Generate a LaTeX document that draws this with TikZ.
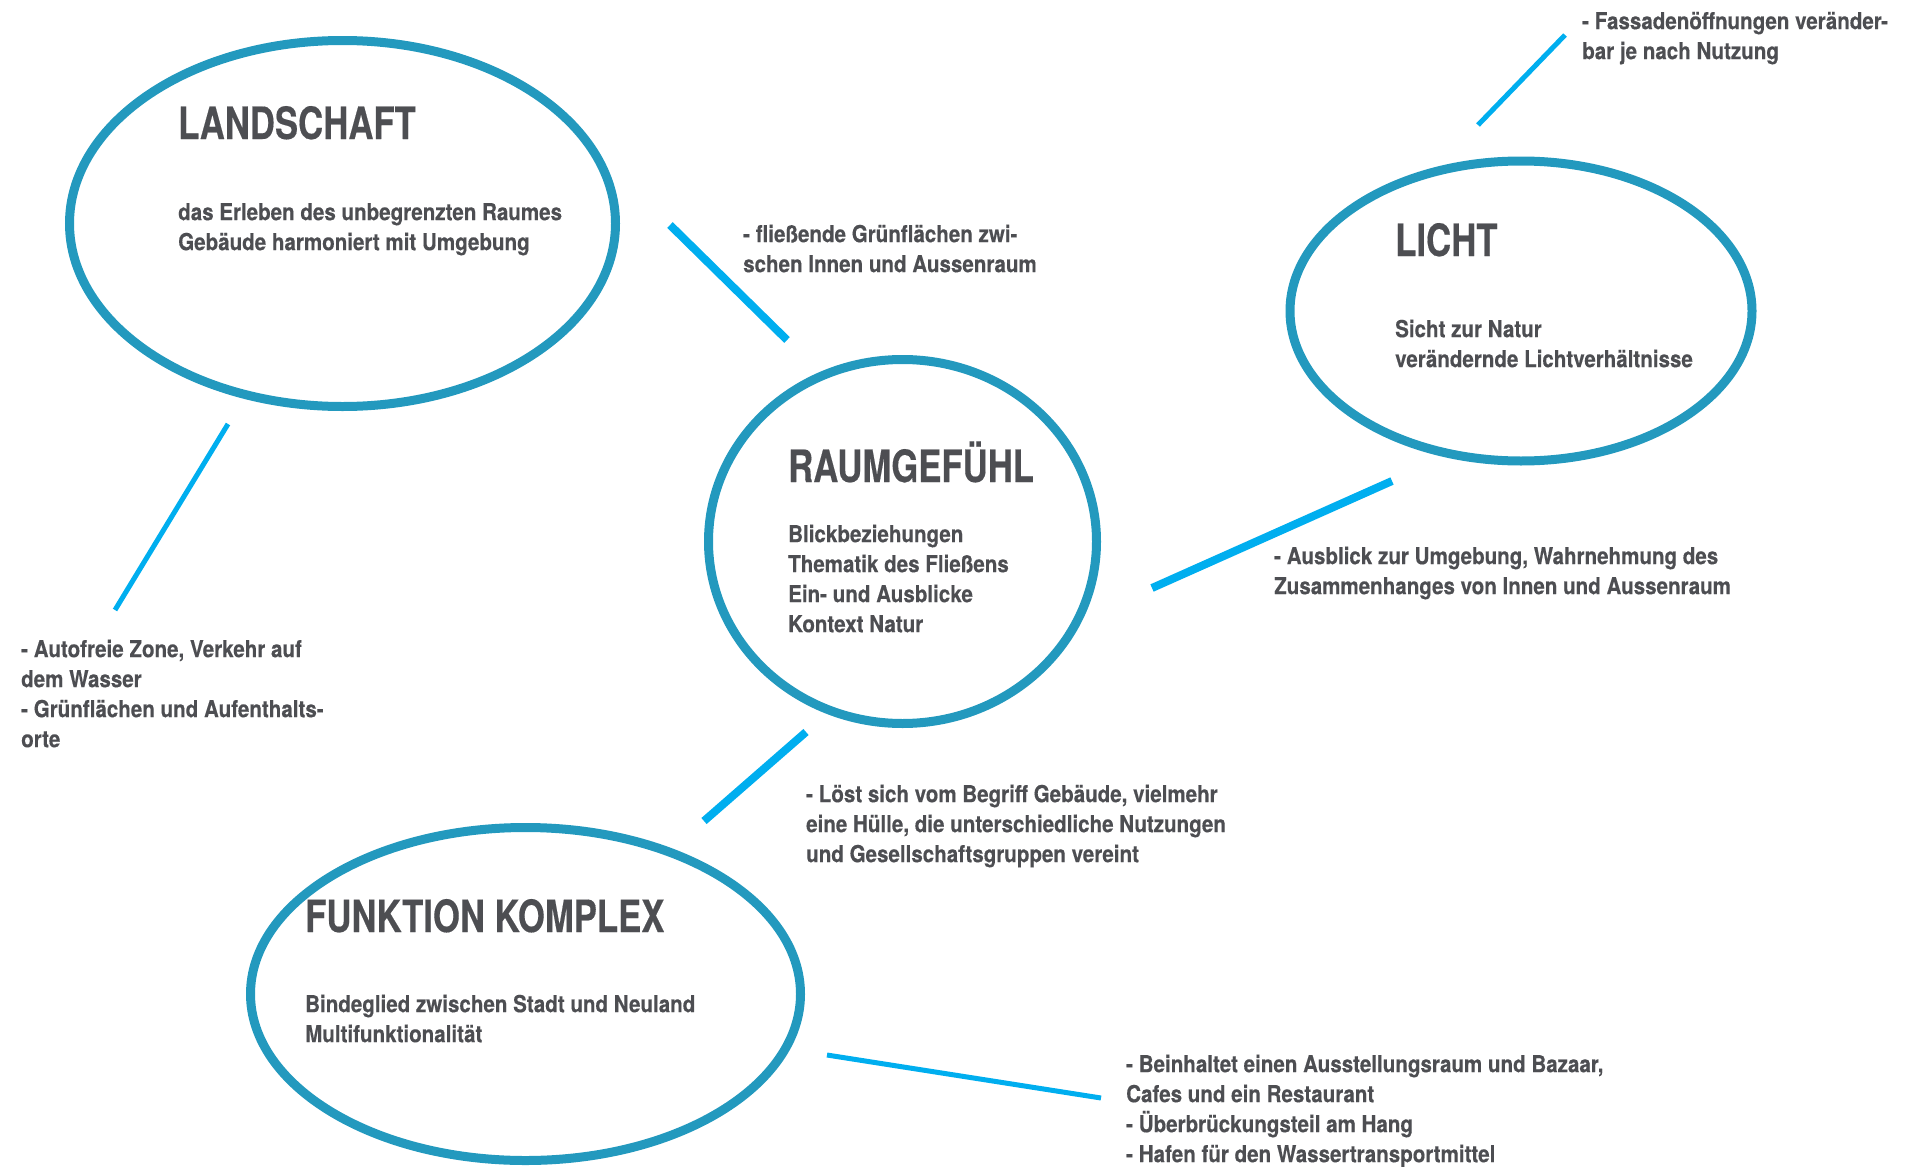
\documentclass[tikz,border=0pt]{standalone}
\usepackage{fontspec}
\setmainfont{TeX Gyre Heros}
\newfontfamily\headfont[FakeStretch=0.78, FakeBold=0.3]{TeX Gyre Heros}
\newfontfamily\bodyfont[FakeStretch=0.875, FakeBold=0.3]{TeX Gyre Heros}
\usepackage{tikz}
\usetikzlibrary{shapes.geometric}

\definecolor{ringblue}{HTML}{2399BE}
\definecolor{linkblue}{HTML}{00AEEF}
\definecolor{textgrey}{HTML}{4D4E52}

% fixed height for the first line of every note
\newcommand{\fl}{\rule{0pt}{22pt}}

\tikzset{
  bubble/.style={ellipse, draw=ringblue, line width=9pt, inner sep=0pt},
  headline/.style={anchor=base west, inner sep=0pt, text=textgrey,
    font=\headfont\bfseries\fontsize{44.5}{50}\selectfont},
  note/.style={anchor=north west, inner sep=0pt, align=left, text=textgrey,
    font=\bodyfont\bfseries\fontsize{23.5}{30}\selectfont},
  link/.style={draw=linkblue, line width=5pt},
  thicklink/.style={link, line width=8pt}
}

\begin{document}
\begin{tikzpicture}[x=1pt, y=-1pt]
            \useasboundingbox (0,0) rectangle (1917,1167);
            %
            \node[bubble, minimum width=546pt, minimum height=366pt] (landschaft) at (342.5,223.5) {};
            \node[bubble, minimum width=388pt, minimum height=364pt] (raum) at (902.5,541.5) {};
            \node[bubble, minimum width=462pt, minimum height=300pt] (licht) at (1521,311) {};
            \node[bubble, minimum width=550pt, minimum height=333pt] (funktion) at (525.5,994) {};
            %
            \node[headline] (landschaft-title) at (178,139) {LANDSCHAFT};
            \node[note] (landschaft-text) at (178,198) {\fl das Erleben des unbegrenzten Raumes\\Gebäude harmoniert mit Umgebung};

            \node[headline] (raum-title) at (788,482) {RAUMGEFÜHL};
            \node[note] (raum-text) at (788,520) {\fl Blickbeziehungen\\Thematik des Fließens\\Ein- und Ausblicke\\Kontext Natur};

            \node[headline] (licht-title) at (1395,256) {LICHT};
            \node[note] (licht-text) at (1395,315) {\fl Sicht zur Natur\\verändernde Lichtverhältnisse};

            \node[headline] (funktion-title) at (305,932) {FUNKTION KOMPLEX};
            \node[note] (funktion-text) at (305,990) {\fl Bindeglied zwischen Stadt und Neuland\\Multifunktionalität};
            %
            \node[note] (gruen) at (743,220) {\fl - fließende Grünflächen zwi-\\schen Innen und Aussenraum};
            \node[note] (autofrei) at (21,635) {\fl - Autofreie Zone, Verkehr auf\\dem Wasser\\- Grünflächen und Aufenthalts-\\orte};
            \node[note] (fassade) at (1582,7) {\fl - Fassadenöffnungen veränder-\\bar je nach Nutzung};
            \node[note] (ausblick) at (1274,542) {\fl - Ausblick zur Umgebung, Wahrnehmung des\\Zusammenhanges von Innen und Aussenraum};
            \node[note] (huelle) at (806,780) {\fl - Löst sich vom Begriff Gebäude, vielmehr\\eine Hülle, die unterschiedliche Nutzungen\\und Gesellschaftsgruppen vereint};
            \node[note] (bazaar) at (1126,1050) {\fl - Beinhaltet einen Ausstellungsraum und Bazaar,\\Cafes und ein Restaurant\\- Überbrückungsteil am Hang\\- Hafen für den Wassertransportmittel};
            %
            \coordinate (l1a) at (670,225);
            \coordinate (l1b) at (787,340);
            \coordinate (l2a) at (228,424);
            \coordinate (l2b) at (115,610);
            \coordinate (l3a) at (1478,125);
            \coordinate (l3b) at (1565,35);
            \coordinate (l4a) at (1152,588);
            \coordinate (l4b) at (1392,481);
            \coordinate (l5a) at (806,732);
            \coordinate (l5b) at (704,821);
            \coordinate (l6a) at (827,1055);
            \coordinate (l6b) at (1101,1098);
            %
            \draw[thicklink] (l1a) -- (l1b);
            \draw[link] (l2a) -- (l2b);
            \draw[link] (l3a) -- (l3b);
            \draw[thicklink] (l4a) -- (l4b);
            \draw[thicklink] (l5a) -- (l5b);
            \draw[link] (l6a) -- (l6b);
        \end{tikzpicture}
\end{document}
